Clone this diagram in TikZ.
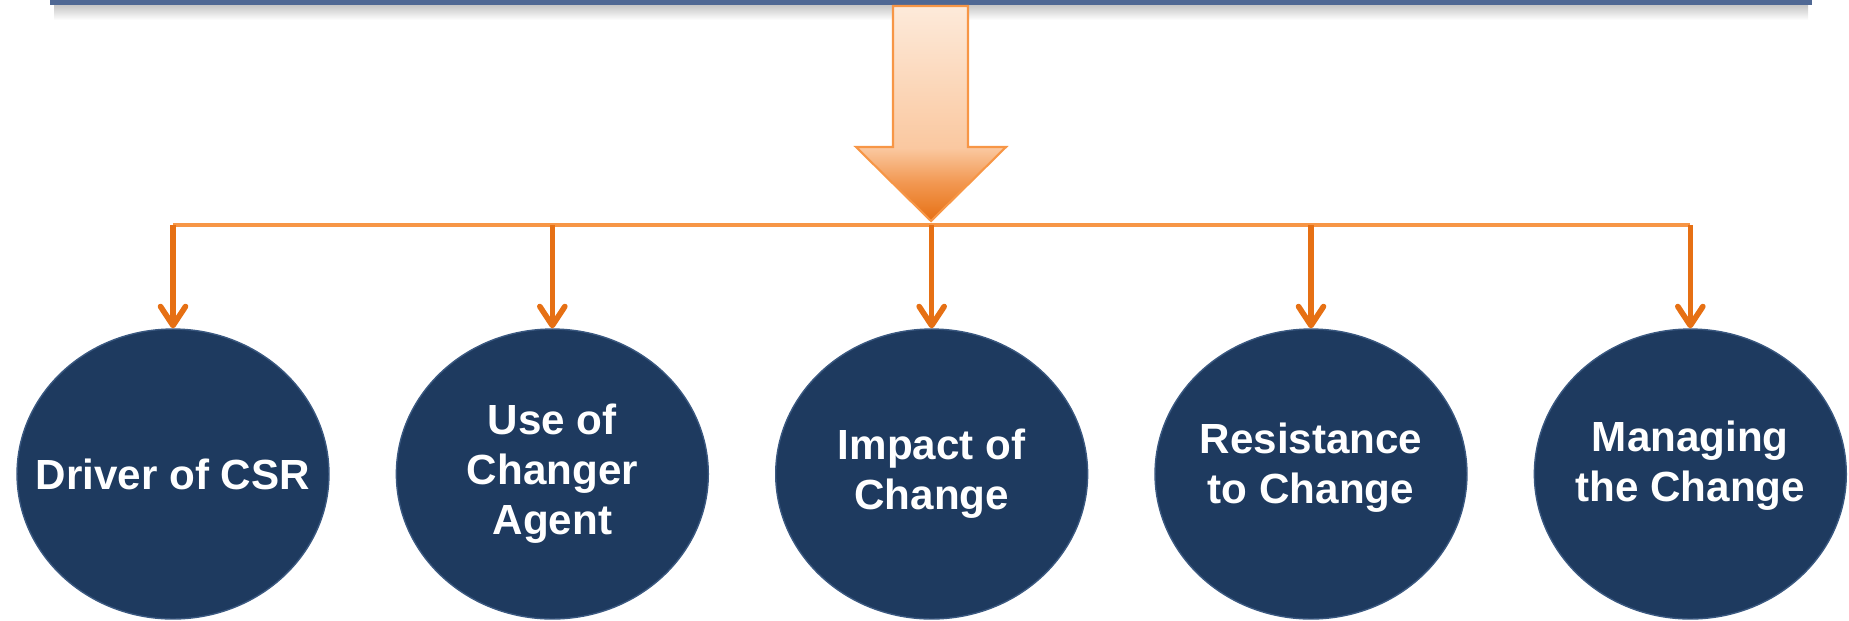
\documentclass[tikz,border=0pt]{standalone}
\usepackage{fontspec}
\setmainfont{Liberation Sans}
\usetikzlibrary{arrows.meta, positioning, shapes.geometric}
\definecolor{color1}{RGB}{30,58,95}
\definecolor{color2}{RGB}{58,88,128}
\definecolor{color3}{RGB}{247,150,70}
\definecolor{color4}{RGB}{230,112,20}
\definecolor{color5}{RGB}{253,234,218}
\definecolor{color6}{RGB}{250,200,160}
\definecolor{color7}{RGB}{79,104,148}
\definecolor{color8}{RGB}{242,152,82}
\pgfdeclareverticalshading{flechaTono}{100bp}{color(0bp)=(color4); color(25bp)=(color4); color(34bp)=(color8); color(42bp)=(color6); color(75bp)=(color5); color(100bp)=(color5)}

\begin{document}
\begin{tikzpicture}
        [
        x=0.02cm, y=-0.02cm,
        node distance=0.5cm and 1.32cm,
            tema/.style={
                ellipse,
                draw=color2,
                thick,
                fill=color1,
                text=white,
                font=\bfseries\fontsize{24}{28.5}\selectfont,
                align=center,
                minimum width=6.24cm,
                minimum height=5.8cm,
                inner sep=-1.2cm
            },
            lineaBus/.style={
                color3,
                line width=2.8pt
            },
            flechaRama/.style={
                -{Straight Barb[length=0.38cm,width=0.5cm,round]},
                color4,
                line width=3.2pt
            }
        ]
        \useasboundingbox (0,0) rectangle (1849,620);
        \clip (0,0) rectangle (1849,620);
        % bar at the top and its shadow
        \shade[top color=gray!45, bottom color=white] (54,5) rectangle (1808,20);
        \fill[color7] (50,-10) rectangle (1812,5);
        % block arrow
        \shadedraw[shading=flechaTono, draw=color3, line width=1.2pt]
            (893,6) -- (968,6) -- (968,147) -- (1006,147) -- (931,221) -- (856,147) -- (893,147) -- cycle;
        \coordinate (bus) at (931,225);

        \node(driver) [tema] at (173,474) {Driver of CSR};
        \node(agent) [tema, right=of driver] {Use of\\Changer\\Agent};
        \node(impact) [tema, right=of agent] {Impact of\\Change};
        \node(resistance) [tema, text depth=0.45cm, right=of impact] {Resistance\\to Change};
        \node(managing) [tema, text depth=0.5cm, right=of resistance] {Managing\\the Change};

        \draw[lineaBus] (driver.north |- bus)--(managing.north |- bus);
        \draw[flechaRama] (driver.north |- bus)--(driver.north);
        \draw[flechaRama] (agent.north |- bus)--(agent.north);
        \draw[flechaRama] (impact.north |- bus)--(impact.north);
        \draw[flechaRama] (resistance.north |- bus)--(resistance.north);
        \draw[flechaRama] (managing.north |- bus)--(managing.north);
    \end{tikzpicture}
\end{document}
